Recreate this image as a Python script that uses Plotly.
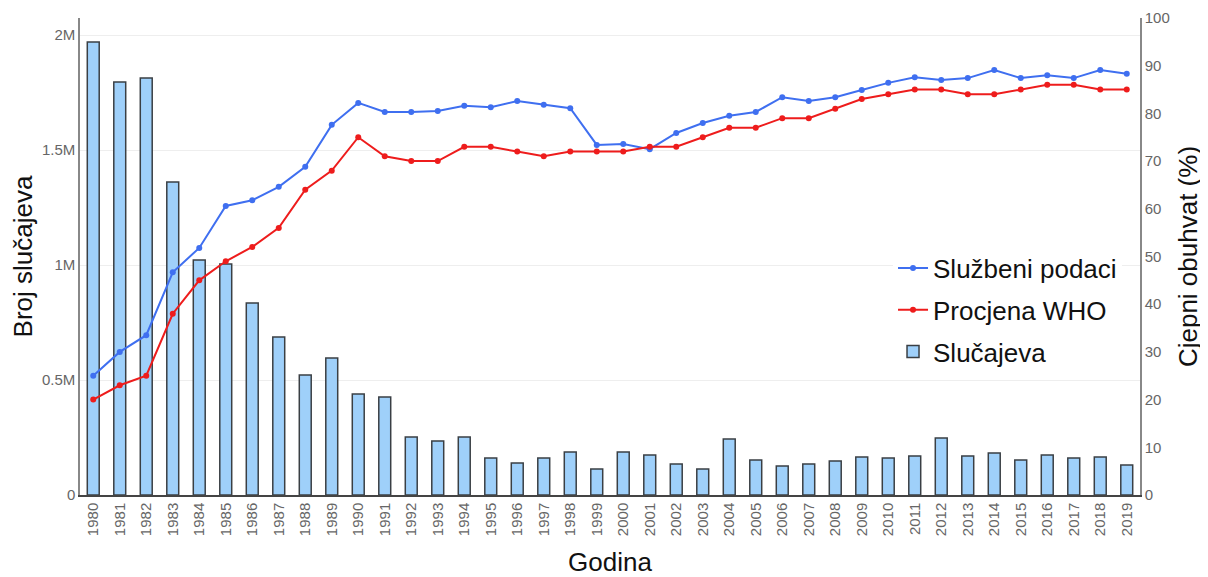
import plotly.graph_objects as go

years = [str(y) for y in range(1980, 2020)]
cases = [1.97e6, 1.796e6, 1.813e6, 1.361e6, 1.022e6, 1.004e6, 0.835e6, 0.687e6, 0.522e6, 0.596e6,
         0.439e6, 0.426e6, 0.252e6, 0.235e6, 0.252e6, 0.161e6, 0.139e6, 0.161e6, 0.187e6, 0.113e6,
         0.187e6, 0.174e6, 0.135e6, 0.113e6, 0.243e6, 0.152e6, 0.126e6, 0.135e6, 0.148e6, 0.165e6,
         0.161e6, 0.170e6, 0.248e6, 0.170e6, 0.183e6, 0.152e6, 0.174e6, 0.161e6, 0.165e6, 0.130e6]
official = [25, 30, 33.5, 46.7, 51.8, 60.6, 61.8, 64.6, 68.8, 77.6,
            82.2, 80.3, 80.3, 80.5, 81.6, 81.3, 82.6, 81.8, 81.1, 73.4,
            73.6, 72.5, 75.9, 78, 79.5, 80.3, 83.4, 82.6, 83.4, 84.9,
            86.4, 87.6, 87, 87.4, 89.1, 87.4, 88, 87.4, 89.1, 88.3]
who = [20, 23, 25, 38, 45, 49, 52, 56, 64, 68,
       75, 71, 70, 70, 73, 73, 72, 71, 72, 72,
       72, 73, 73, 75, 77, 77, 79, 79, 81, 83,
       84, 85, 85, 84, 84, 85, 86, 86, 85, 85]
left_tickvals = [0, 500000, 1000000, 1500000, 2000000]
left_ticktext = ["0", "0.5M", "1M", "1.5M", "2M"]

fig = go.Figure()
fig.add_trace(go.Scatter(x=years, y=official, name="Službeni podaci", mode="lines+markers",
                         line=dict(color="#3f6ff0", width=2), marker=dict(size=6, color="#3f6ff0"),
                         yaxis="y2", legendgroup="a"))
fig.add_trace(go.Scatter(x=years, y=who, name="Procjena WHO", mode="lines+markers",
                         line=dict(color="#ee1c1c", width=2), marker=dict(size=6, color="#ee1c1c"),
                         yaxis="y2", legendgroup="b"))
fig.add_trace(go.Bar(x=years, y=cases, name="Slučajeva",
                     marker=dict(color="#9fd0fa", line=dict(color="#3a3f44", width=1.5)),
                     width=0.45, yaxis="y", legendgroup="c"))

# page body has an 8px margin, so the figure is sized to fit the 1208x577 window
fig.update_layout(
    width=1200, height=569,
    margin=dict(l=72, r=68, t=10, b=82, autoexpand=False),
    plot_bgcolor="white", paper_bgcolor="white",
    font=dict(family="Arial, Liberation Sans, sans-serif", color="#111"),
    showlegend=True,
    legend=dict(x=0.767, y=0.525, xanchor="left", yanchor="top", font=dict(size=26, color="#111"),
                bgcolor="white", traceorder="grouped", tracegroupgap=5),
    xaxis=dict(type="category", range=[-0.5, 39.5], tickangle=-90, tickfont=dict(size=15, color="#666"),
               showline=True, linecolor="#444", linewidth=1.5, showgrid=False, ticks="",
               automargin=False,
               title=dict(text="Godina", font=dict(size=26, color="#111"), standoff=23)),
    yaxis=dict(range=[0, 2.074e6], tickvals=left_tickvals, ticktext=left_ticktext,
               tickfont=dict(size=15, color="#666"), showgrid=True, gridcolor="#eeeeee",
               showline=True, linecolor="#888", linewidth=1.5, zeroline=False, automargin=False,
               title=dict(text="Broj slučajeva", font=dict(size=26, color="#111"), standoff=8)),
    yaxis2=dict(range=[0, 100], dtick=10, overlaying="y", side="right",
                tickfont=dict(size=15, color="#666"), showgrid=False, automargin=False,
                showline=True, linecolor="#888", linewidth=1.5, zeroline=False,
                title=dict(text="Cjepni obuhvat (%)", font=dict(size=26, color="#111"), standoff=10)),
)

fig.write_html("out.html")
